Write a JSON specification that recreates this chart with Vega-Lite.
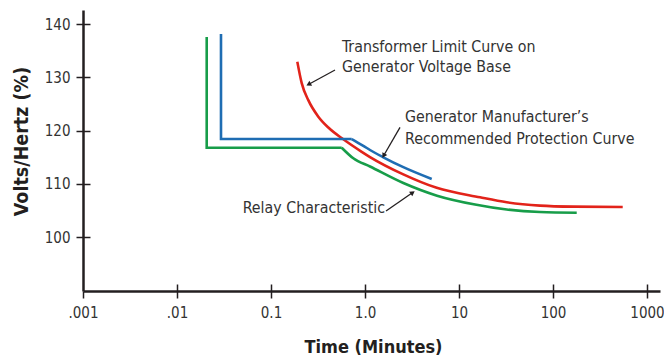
{
  "$schema": "https://vega.github.io/schema/vega-lite/v6.json",
  "width": 577,
  "height": 281,
  "autosize": {"type": "none"},
  "padding": {"left": 83, "top": 10, "right": 4, "bottom": 69},
  "background": "white",
  "config": {"view": {"stroke": null}, "font": "DejaVu Sans Condensed, Roboto, sans-serif", "axis": {"grid": false}},
  "datasets": {
    "curves": [
      {"series": "Transformer Limit", "ord": 1, "time": 0.1905, "vh": 132.9},
      {"series": "Transformer Limit", "ord": 2, "time": 0.2121, "vh": 128.9},
      {"series": "Transformer Limit", "ord": 3, "time": 0.2493, "vh": 125.7},
      {"series": "Transformer Limit", "ord": 4, "time": 0.3186, "vh": 122.6},
      {"series": "Transformer Limit", "ord": 5, "time": 0.4071, "vh": 120.56},
      {"series": "Transformer Limit", "ord": 6, "time": 0.5877, "vh": 118.35},
      {"series": "Transformer Limit", "ord": 7, "time": 0.9224, "vh": 116.0},
      {"series": "Transformer Limit", "ord": 8, "time": 1.13, "vh": 115.02},
      {"series": "Transformer Limit", "ord": 9, "time": 2.555, "vh": 111.77},
      {"series": "Transformer Limit", "ord": 10, "time": 5.79, "vh": 109.24},
      {"series": "Transformer Limit", "ord": 11, "time": 16.73, "vh": 107.46},
      {"series": "Transformer Limit", "ord": 12, "time": 32.17, "vh": 106.52},
      {"series": "Transformer Limit", "ord": 13, "time": 72.7, "vh": 105.9},
      {"series": "Transformer Limit", "ord": 14, "time": 164.4, "vh": 105.7},
      {"series": "Transformer Limit", "ord": 15, "time": 551.3, "vh": 105.63},
      {"series": "Generator Manufacturer", "ord": 1, "time": 0.02937, "vh": 138.12},
      {"series": "Generator Manufacturer", "ord": 2, "time": 0.02937, "vh": 118.4},
      {"series": "Generator Manufacturer", "ord": 3, "time": 0.7223, "vh": 118.4},
      {"series": "Generator Manufacturer", "ord": 4, "time": 0.9592, "vh": 117.13},
      {"series": "Generator Manufacturer", "ord": 5, "time": 1.13, "vh": 116.34},
      {"series": "Generator Manufacturer", "ord": 6, "time": 1.566, "vh": 114.97},
      {"series": "Generator Manufacturer", "ord": 7, "time": 2.555, "vh": 113.11},
      {"series": "Generator Manufacturer", "ord": 8, "time": 5.124, "vh": 110.89},
      {"series": "Relay Characteristic", "ord": 1, "time": 0.0207, "vh": 137.56},
      {"series": "Relay Characteristic", "ord": 2, "time": 0.0207, "vh": 116.77},
      {"series": "Relay Characteristic", "ord": 3, "time": 0.5651, "vh": 116.77},
      {"series": "Relay Characteristic", "ord": 4, "time": 0.7507, "vh": 114.78},
      {"series": "Relay Characteristic", "ord": 5, "time": 1.13, "vh": 113.24},
      {"series": "Relay Characteristic", "ord": 6, "time": 2.555, "vh": 110.14},
      {"series": "Relay Characteristic", "ord": 7, "time": 5.834, "vh": 107.76},
      {"series": "Relay Characteristic", "ord": 8, "time": 14.8, "vh": 106.1},
      {"series": "Relay Characteristic", "ord": 9, "time": 32.17, "vh": 105.16},
      {"series": "Relay Characteristic", "ord": 10, "time": 72.7, "vh": 104.69},
      {"series": "Relay Characteristic", "ord": 11, "time": 178.7, "vh": 104.56}
    ],
    "notes": [
      {"label": "Transformer Limit Curve on", "x": 0.5691, "y": 134.8},
      {"label": "Generator Voltage Base", "x": 0.5691, "y": 131.04},
      {"label": "Generator Manufacturer’s", "x": 2.664, "y": 121.65},
      {"label": "Recommended Protection Curve", "x": 2.664, "y": 117.46},
      {"label": "Relay Characteristic", "x": 0.05, "y": 104.45}
    ],
    "arrows": [
      {"id": "a1", "x": 0.4797, "y": 131.36, "x2": 0.2555, "y2": 128.73},
      {"id": "a2", "x": 2.357, "y": 120.6, "x2": 1.593, "y2": 115.4},
      {"id": "a3", "x": 1.673, "y": 104.88, "x2": 3.162, "y2": 108.26}
    ]
  },
  "layer": [
    {
      "data": {"name": "curves"},
      "transform": [{"filter": "datum.series === 'Transformer Limit'"}],
      "mark": {"type": "line", "strokeWidth": 2.6, "interpolate": "monotone", "strokeCap": "butt"},
      "encoding": {
        "x": {
          "field": "time", "type": "quantitative",
          "scale": {"type": "log", "domain": [0.001, 1374], "nice": false},
          "axis": {
            "orient": "bottom",
            "values": [0.001, 0.01, 0.1, 1, 10, 100, 1000],
            "labelExpr": "datum.value < 0.005 ? '.001' : datum.value < 0.05 ? '.01' : datum.value < 0.5 ? '0.1' : datum.value < 5 ? '1.0' : format(datum.value, 'd')",
            "labelFlush": false, "labelOverlap": false, "labelBound": false,
            "labelFontSize": 15, "labelColor": "#333333", "labelPadding": 7,
            "tickSize": 7, "tickWidth": 1.5, "tickColor": "#231f20",
            "domainColor": "#231f20", "domainWidth": 2.5,
            "title": "Time (Minutes)", "titleFontSize": 18, "titleFontWeight": "bold",
            "titleColor": "#231f20", "titleX": 290, "titleY": 61, "titleBaseline": "alphabetic", "titleAlign": "center"
          }
        },
        "y": {
          "field": "vh", "type": "quantitative",
          "scale": {"domain": [89.86, 142.63], "nice": false, "zero": false},
          "axis": {
            "orient": "left",
            "values": [100, 110, 120, 130, 140],
            "labelFontSize": 15, "labelColor": "#333333", "labelPadding": 6,
            "tickSize": 7, "tickWidth": 1.5, "tickColor": "#231f20",
            "domainColor": "#231f20", "domainWidth": 2.5,
            "title": "Volts/Hertz (%)", "titleFontSize": 19.5, "titleFontWeight": "bold",
            "titleColor": "#231f20", "titleX": -62, "titleY": 131, "titleAngle": 270,
            "titleBaseline": "middle", "titleAlign": "center"
          }
        },
        "color": {
          "field": "series", "type": "nominal",
          "scale": {"domain": ["Transformer Limit", "Generator Manufacturer", "Relay Characteristic"], "range": ["#e2231a", "#1f6db3", "#179d49"]},
          "legend": null
        },
        "order": {"field": "ord", "type": "quantitative"}
      }
    },
    {
      "data": {"name": "curves"},
      "transform": [{"filter": "datum.series !== 'Transformer Limit' && datum.ord <= 3"}],
      "mark": {"type": "line", "strokeWidth": 2.6, "strokeCap": "butt", "strokeJoin": "miter"},
      "encoding": {
        "x": {
          "field": "time", "type": "quantitative",
          "scale": {"type": "log", "domain": [0.001, 1374], "nice": false},
          "axis": {
            "orient": "bottom", "offset": -7,
            "values": [0.01, 0.1, 1, 10, 100, 1000],
            "labels": false, "domain": false, "title": null,
            "tickSize": 7, "tickWidth": 1.5, "tickColor": "#231f20"
          }
        },
        "y": {
          "field": "vh", "type": "quantitative",
          "scale": {"domain": [89.86, 142.63], "nice": false, "zero": false},
          "axis": {
            "orient": "left", "offset": -7,
            "values": [100, 110, 120, 130, 140],
            "labels": false, "domain": false, "title": null,
            "tickSize": 7, "tickWidth": 1.5, "tickColor": "#231f20"
          }
        },
        "color": {
          "field": "series", "type": "nominal",
          "scale": {"domain": ["Transformer Limit", "Generator Manufacturer", "Relay Characteristic"], "range": ["#e2231a", "#1f6db3", "#179d49"]},
          "legend": null
        },
        "order": {"field": "ord", "type": "quantitative"}
      }
    },
    {
      "data": {"name": "curves"},
      "transform": [{"filter": "datum.series !== 'Transformer Limit' && datum.ord >= 3"}],
      "mark": {"type": "line", "strokeWidth": 2.6, "strokeCap": "butt", "interpolate": "monotone"},
      "encoding": {
        "x": {"field": "time", "type": "quantitative", "scale": {"type": "log", "domain": [0.001, 1374], "nice": false}, "axis": null},
        "y": {"field": "vh", "type": "quantitative", "scale": {"domain": [89.86, 142.63], "nice": false, "zero": false}, "axis": null},
        "color": {
          "field": "series", "type": "nominal",
          "scale": {"domain": ["Transformer Limit", "Generator Manufacturer", "Relay Characteristic"], "range": ["#e2231a", "#1f6db3", "#179d49"]},
          "legend": null
        },
        "order": {"field": "ord", "type": "quantitative"}
      }
    },
    {
      "data": {"name": "notes"},
      "mark": {"type": "text", "align": "left", "baseline": "alphabetic", "fontSize": 15.8, "color": "#333333"},
      "encoding": {
        "x": {"field": "x", "type": "quantitative", "scale": {"type": "log", "domain": [0.001, 1374], "nice": false}, "axis": null},
        "y": {"field": "y", "type": "quantitative", "scale": {"domain": [89.86, 142.63], "nice": false, "zero": false}, "axis": null},
        "text": {"field": "label"}
      }
    },
    {
      "data": {"name": "arrows"},
      "mark": {"type": "rule", "strokeWidth": 1.3, "color": "#231f20"},
      "encoding": {
        "x": {"field": "x", "type": "quantitative", "scale": {"type": "log", "domain": [0.001, 1374], "nice": false}, "axis": null},
        "y": {"field": "y", "type": "quantitative", "scale": {"domain": [89.86, 142.63], "nice": false, "zero": false}, "axis": null},
        "x2": {"field": "x2"},
        "y2": {"field": "y2"}
      }
    },
    {
      "data": {"name": "arrows"},
      "transform": [{"filter": "datum.id === 'a1'"}],
      "mark": {"type": "point", "shape": "triangle", "filled": true, "size": 32, "angle": 241, "color": "#231f20", "opacity": 1},
      "encoding": {
        "x": {"field": "x2", "type": "quantitative", "scale": {"type": "log", "domain": [0.001, 1374], "nice": false}, "axis": null},
        "y": {"field": "y2", "type": "quantitative", "scale": {"domain": [89.86, 142.63], "nice": false, "zero": false}, "axis": null}
      }
    },
    {
      "data": {"name": "arrows"},
      "transform": [{"filter": "datum.id === 'a2'"}],
      "mark": {"type": "point", "shape": "triangle", "filled": true, "size": 32, "angle": 210, "color": "#231f20", "opacity": 1},
      "encoding": {
        "x": {"field": "x2", "type": "quantitative", "scale": {"type": "log", "domain": [0.001, 1374], "nice": false}, "axis": null},
        "y": {"field": "y2", "type": "quantitative", "scale": {"domain": [89.86, 142.63], "nice": false, "zero": false}, "axis": null}
      }
    },
    {
      "data": {"name": "arrows"},
      "transform": [{"filter": "datum.id === 'a3'"}],
      "mark": {"type": "point", "shape": "triangle", "filled": true, "size": 32, "angle": 55, "color": "#231f20", "opacity": 1},
      "encoding": {
        "x": {"field": "x2", "type": "quantitative", "scale": {"type": "log", "domain": [0.001, 1374], "nice": false}, "axis": null},
        "y": {"field": "y2", "type": "quantitative", "scale": {"domain": [89.86, 142.63], "nice": false, "zero": false}, "axis": null}
      }
    }
  ],
  "resolve": {"axis": {"x": "independent", "y": "independent"}}
}
